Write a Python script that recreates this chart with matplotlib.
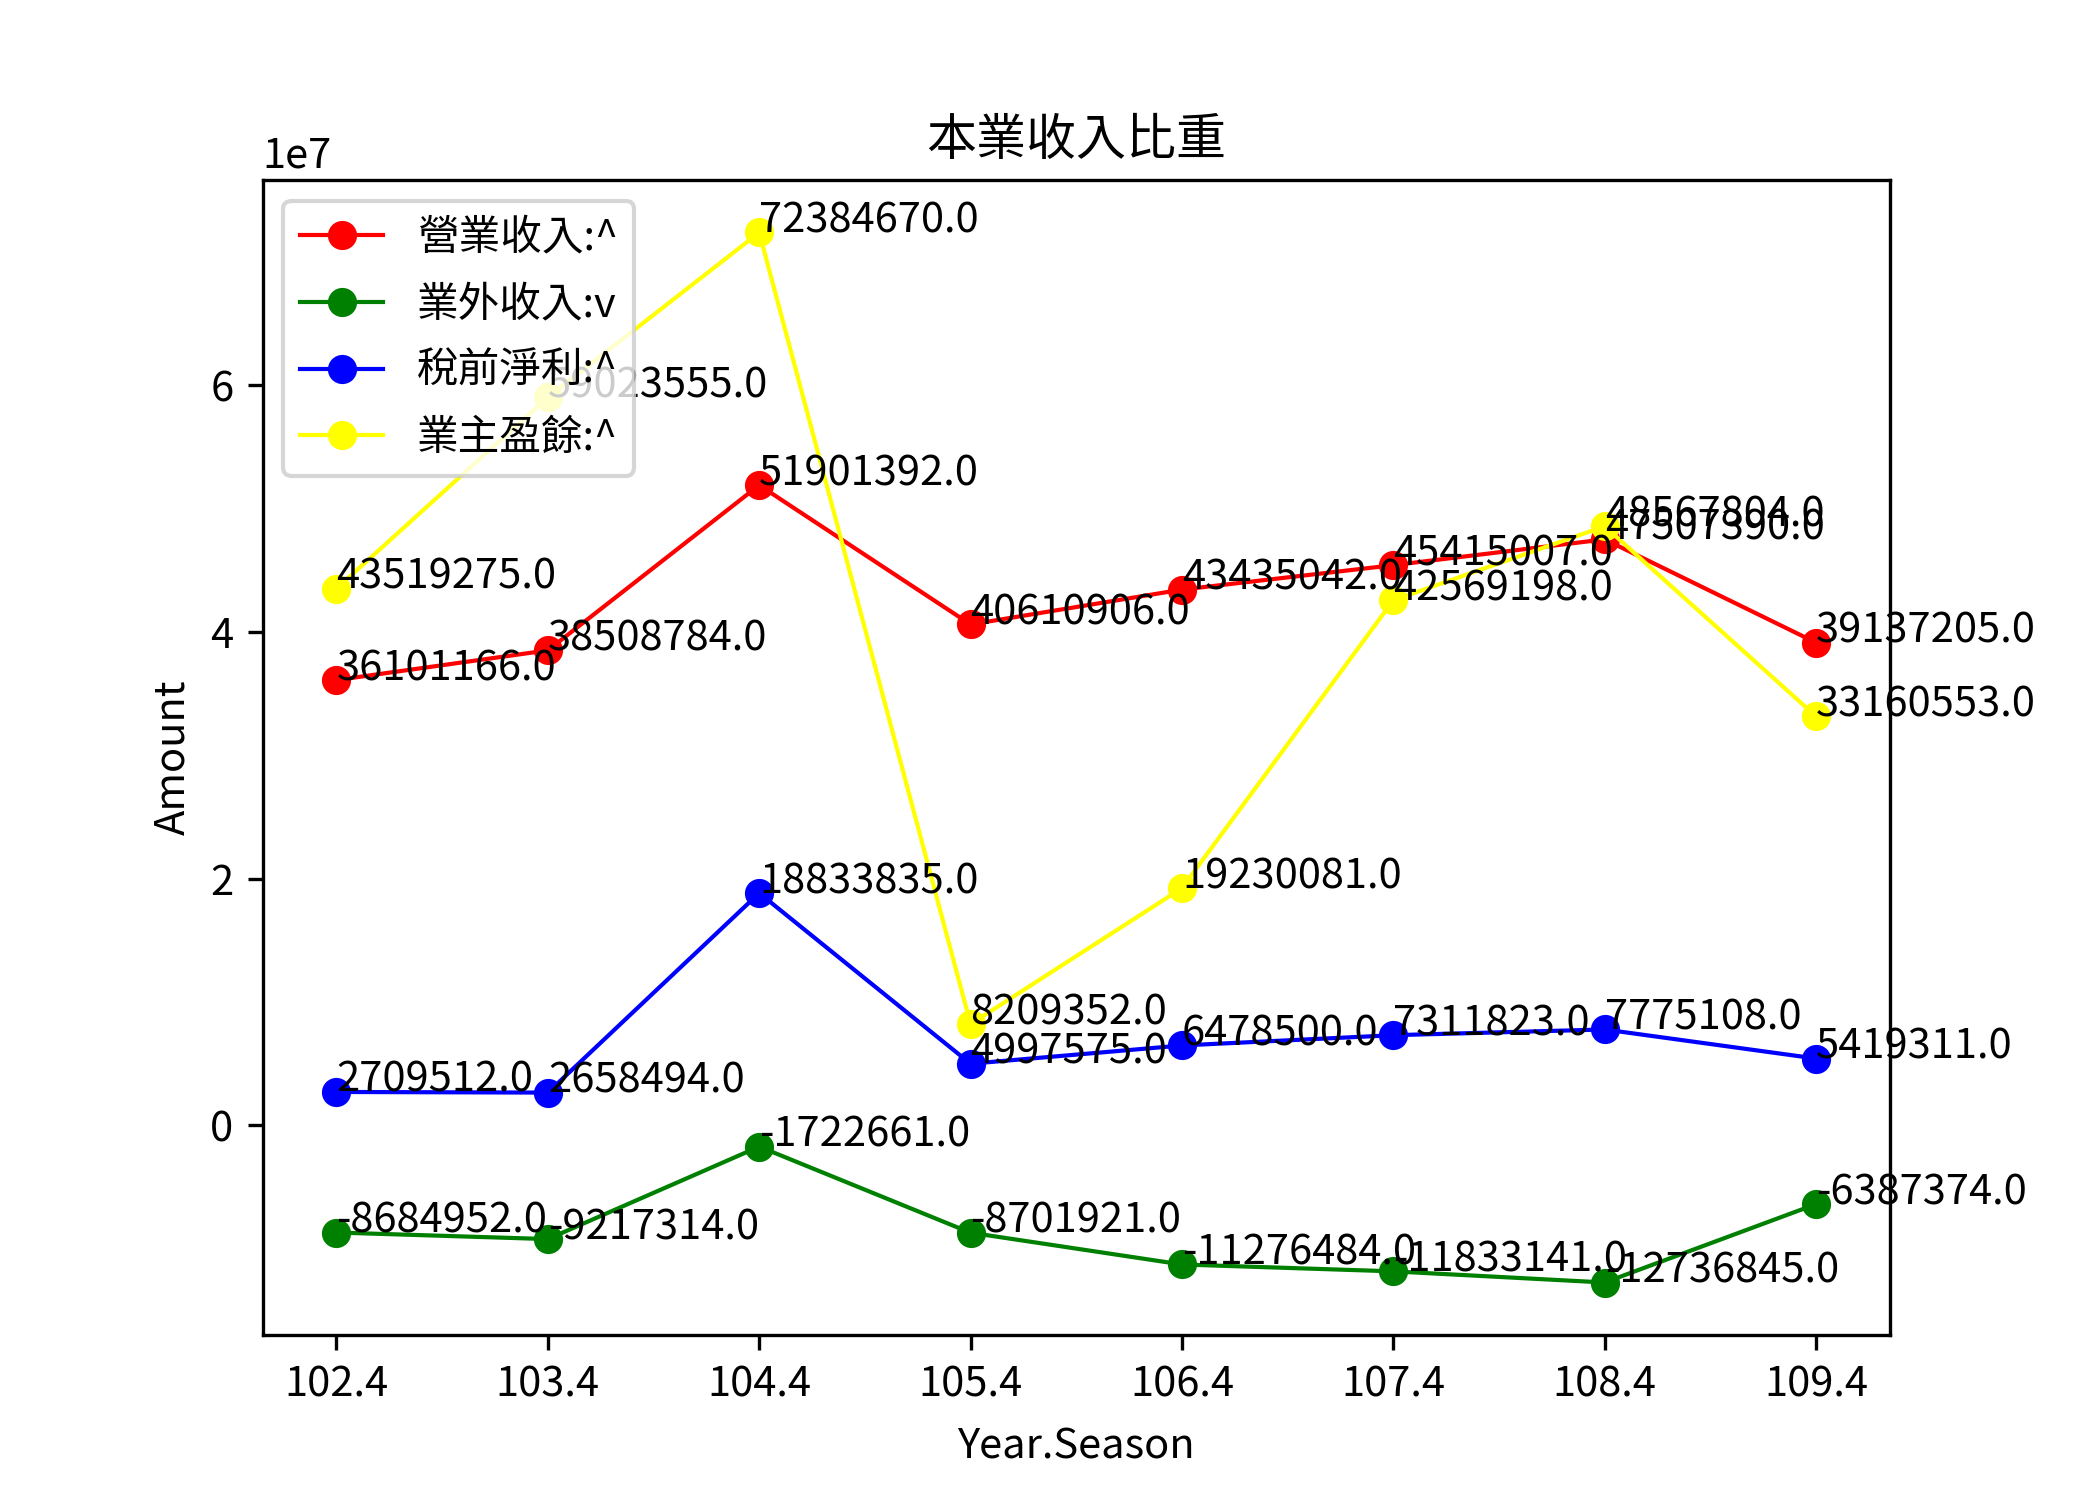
import matplotlib
matplotlib.use("Agg")
import matplotlib.pyplot as plt

plt.rcParams['font.family'] = ['Noto Sans CJK TC', 'DejaVu Sans']

seasons = ['102.4', '103.4', '104.4', '105.4', '106.4', '107.4', '108.4', '109.4']

revenue = [36101166.0, 38508784.0, 51901392.0, 40610906.0,
           43435042.0, 45415007.0, 47507390.0, 39137205.0]
non_op = [-8684952.0, -9217314.0, -1722661.0, -8701921.0,
          -11276484.0, -11833141.0, -12736845.0, -6387374.0]
pretax = [2709512.0, 2658494.0, 18833835.0, 4997575.0,
          6478500.0, 7311823.0, 7775108.0, 5419311.0]
owner = [43519275.0, 59023555.0, 72384670.0, 8209352.0,
         19230081.0, 42569198.0, 48567804.0, 33160553.0]

series = [
    ('營業收入:^', revenue, 'red'),
    ('業外收入:v', non_op, 'green'),
    ('稅前淨利:^', pretax, 'blue'),
    ('業主盈餘:^', owner, 'yellow'),
]

fig, ax = plt.subplots(figsize=(7, 5), dpi=300)

x = list(range(len(seasons)))
for label, values, color in series:
    ax.plot(x, values, color=color, marker='o', linewidth=1, label=label)
    # value label at each point, baseline on the point
    for xi, v in zip(x, values):
        ax.text(xi, v, str(v))

ax.set_xticks(x)
ax.set_xticklabels(seasons)
ax.set_title('本業收入比重')
ax.set_xlabel('Year.Season', labelpad=5.2)
ax.set_ylabel('Amount')
ax.legend(loc='upper left', labelspacing=0.62)

fig.savefig('out.png')
